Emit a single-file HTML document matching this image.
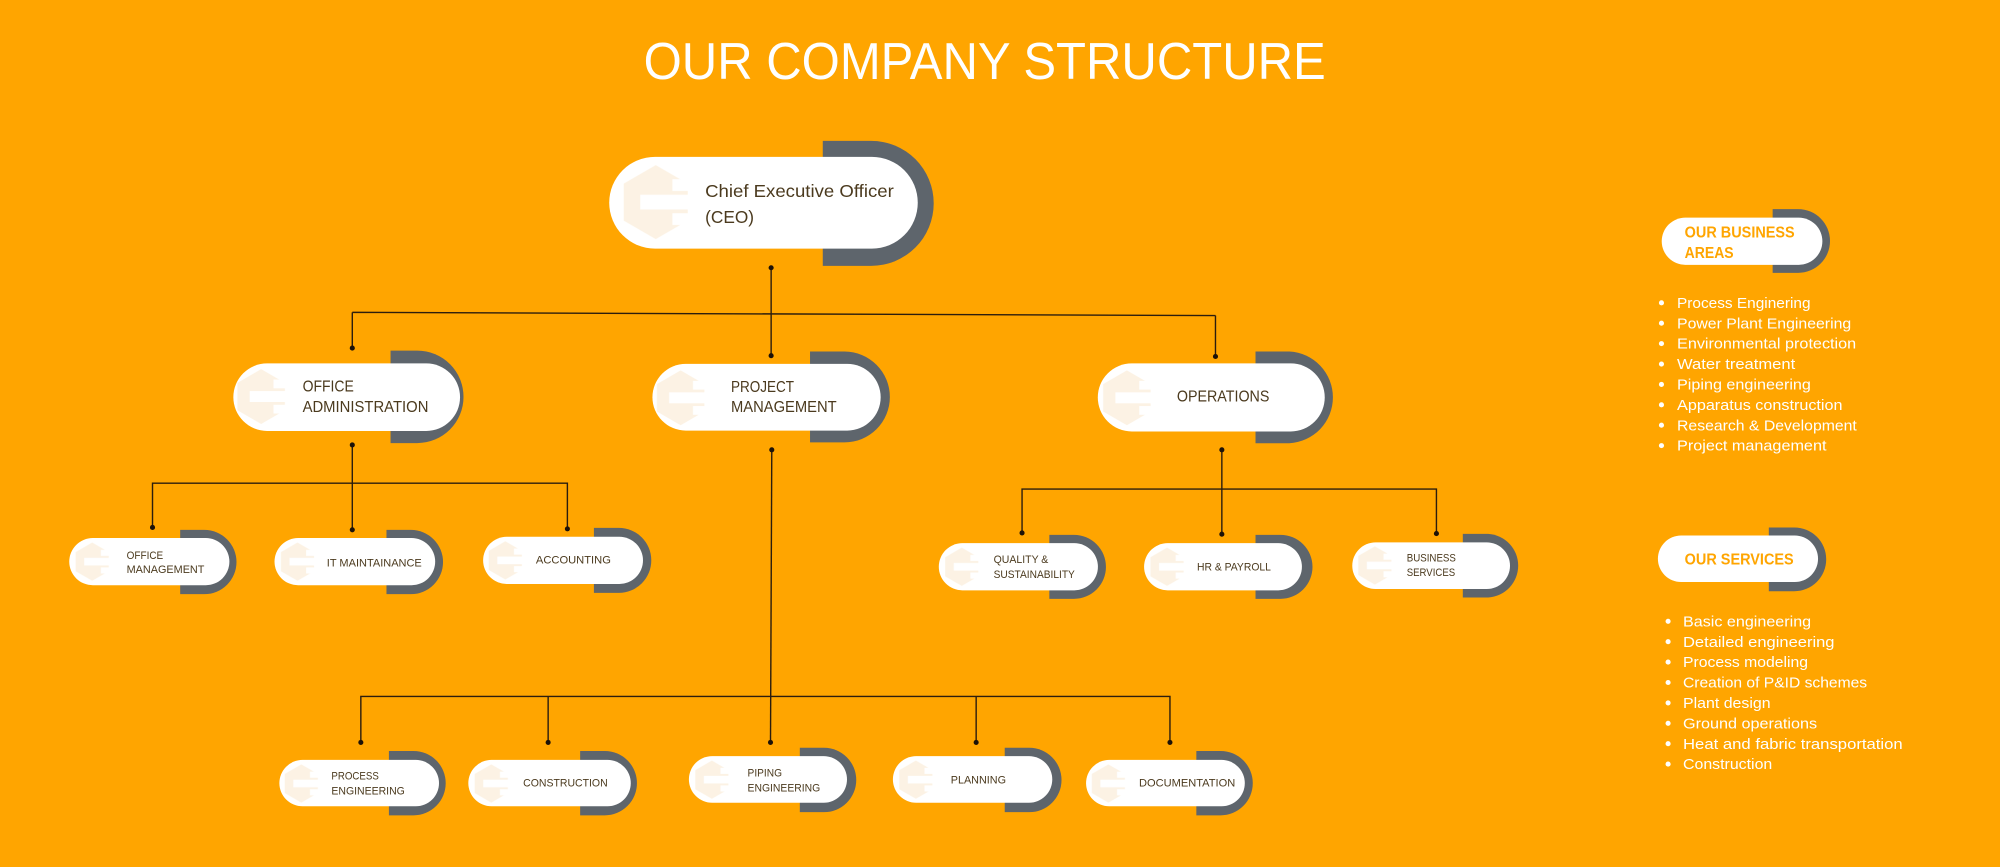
<!DOCTYPE html>
<html><head><meta charset="utf-8"><style>
html,body{margin:0;padding:0;background:#FFA500;}
svg{display:block;}
text{font-family:"Liberation Sans",sans-serif;}
</style></head><body>
<svg width="2000" height="867" viewBox="0 0 1568 680" xmlns="http://www.w3.org/2000/svg">
<defs>
<symbol id="logo" viewBox="-1 -1 2 2">
<polygon points="0,-1 0.866,-0.5 0.866,0.5 0,1 -0.866,0.5 -0.866,-0.5" fill="#fbeedb"/>
<rect x="-0.42" y="-0.2" width="1.4" height="0.4" fill="#fff"/>
<rect x="0.45" y="-0.62" width="0.5" height="0.32" fill="#fff"/>
<rect x="0.45" y="0.3" width="0.5" height="0.32" fill="#fff"/>
</symbol>
</defs>
<rect width="1568" height="680" fill="#FFA500"/>
<text x="772" y="62" font-size="41" fill="#fff" text-anchor="middle" textLength="535" lengthAdjust="spacingAndGlyphs">OUR COMPANY STRUCTURE</text>

<g stroke="#2b1d0e" stroke-width="1.1" fill="none">
<line x1="604.5" y1="210" x2="604.5" y2="245.5"/>
<line x1="276" y1="245" x2="953" y2="247.5"/>
<line x1="276" y1="245" x2="276" y2="273"/>
<line x1="604.5" y1="245.5" x2="604.5" y2="279"/>
<line x1="953" y1="247.5" x2="953" y2="279.6"/>
<line x1="276" y1="349" x2="276" y2="415.5"/>
<polyline points="119.3,413.7 119.3,379 444.7,379 444.7,414.8"/>
<line x1="958" y1="352.8" x2="958" y2="418"/>
<polyline points="801.3,418 801.3,383.6 1126.3,383.6 1126.3,418"/>
<line x1="605" y1="352.8" x2="604" y2="582.3"/>
<polyline points="282.7,582.3 282.7,546.2 917.3,546.2 917.3,582.3"/>
<line x1="429.6" y1="546.2" x2="429.6" y2="582.3"/>
<line x1="765.3" y1="546.2" x2="765.3" y2="582.3"/>
</g>
<g fill="#1d1208">
<circle cx="604.5" cy="210" r="2"/><circle cx="276" cy="273" r="2"/><circle cx="604.5" cy="279" r="2"/><circle cx="953" cy="279.6" r="2"/>
<circle cx="276" cy="349" r="2"/><circle cx="119.3" cy="413.7" r="2"/><circle cx="276" cy="415.5" r="2"/><circle cx="444.7" cy="414.8" r="2"/>
<circle cx="605" cy="352.8" r="2"/><circle cx="958" cy="352.8" r="2"/>
<circle cx="801.3" cy="418" r="2"/><circle cx="958" cy="419" r="2"/><circle cx="1126.3" cy="418.5" r="2"/>
<circle cx="282.7" cy="582.3" r="2"/><circle cx="429.6" cy="582.3" r="2"/><circle cx="604" cy="582.3" r="2"/><circle cx="765.3" cy="582.3" r="2"/><circle cx="917.3" cy="582.3" r="2"/>
</g>

<g fill="#5e656c">
<path d="M645 110.5 H683 A49 49 0 0 1 683 208.5 H645 Z"/>
<path d="M306 275 H327 A36.25 36.25 0 0 1 327 347.5 H306 Z"/>
<path d="M635 275.7 H662 A35.65 35.65 0 0 1 662 347 H635 Z"/>
<path d="M984.4 275.7 H1011 A36 36 0 0 1 1011 347.6 H984.4 Z"/>
<path d="M141 415.6 H160 A25.2 25.2 0 0 1 160 466 H141 Z"/>
<path d="M302.8 415.6 H322 A25.2 25.2 0 0 1 322 466 H302.8 Z"/>
<path d="M465.5 414 H485 A25.5 25.5 0 0 1 485 465 H465.5 Z"/>
<path d="M822.7 419.5 H842 A25.1 25.1 0 0 1 842 469.7 H822.7 Z"/>
<path d="M984.4 419.5 H1004 A25.1 25.1 0 0 1 1004 469.7 H984.4 Z"/>
<path d="M1147 418.7 H1167 A25 25 0 0 1 1167 468.6 H1147 Z"/>
<path d="M304.7 589 H324 A25.25 25.25 0 0 1 324 639.5 H304.7 Z"/>
<path d="M454.7 589 H474 A25.25 25.25 0 0 1 474 639.5 H454.7 Z"/>
<path d="M627 586.5 H646 A25.25 25.25 0 0 1 646 637 H627 Z"/>
<path d="M787.7 586.5 H807 A25.25 25.25 0 0 1 807 637 H787.7 Z"/>
<path d="M938 589 H957 A25.25 25.25 0 0 1 957 639.5 H938 Z"/>
<path d="M1390 164 H1410 A25 25 0 0 1 1410 214 H1390 Z"/>
<path d="M1387 413.7 H1407 A25 25 0 0 1 1407 463.7 H1387 Z"/>
</g>

<g fill="#fff">
<rect x="477.5" y="123" width="242" height="72" rx="36"/>
<rect x="182.7" y="285" width="177.8" height="53" rx="26.5"/>
<rect x="511.4" y="285.4" width="179" height="52.3" rx="26.2"/>
<rect x="860.7" y="285" width="178" height="53.4" rx="26.7"/>
<rect x="54" y="422" width="125.6" height="37" rx="18.5"/>
<rect x="215" y="422" width="126" height="37" rx="18.5"/>
<rect x="378.6" y="421" width="125.4" height="37" rx="18.5"/>
<rect x="736" y="426" width="124.8" height="37" rx="18.5"/>
<rect x="897" y="426" width="123.8" height="37" rx="18.5"/>
<rect x="1060.3" y="425.4" width="123.7" height="36.6" rx="18.3"/>
<rect x="218.8" y="596" width="125.2" height="36.4" rx="18.2"/>
<rect x="367" y="596" width="127.4" height="36.4" rx="18.2"/>
<rect x="540" y="593" width="124" height="36.6" rx="18.3"/>
<rect x="700" y="593" width="125" height="36.6" rx="18.3"/>
<rect x="851.5" y="596" width="124.5" height="36.4" rx="18.2"/>
<rect x="1303" y="170.7" width="126" height="37" rx="18.5"/>
<rect x="1300" y="420" width="125.6" height="36.5" rx="18.25"/>
</g>

<g opacity="0.75">
<use href="#logo" x="485" y="129" width="58" height="59"/>
<use href="#logo" x="183" y="289" width="43" height="44"/>
<use href="#logo" x="512" y="290" width="43" height="44"/>
<use href="#logo" x="862" y="290" width="43" height="44"/>
<use href="#logo" x="57" y="425" width="30" height="31"/>
<use href="#logo" x="218" y="425" width="30" height="31"/>
<use href="#logo" x="381" y="424" width="30" height="31"/>
<use href="#logo" x="739" y="429" width="30" height="31"/>
<use href="#logo" x="900" y="429" width="30" height="31"/>
<use href="#logo" x="1063" y="428" width="30" height="31"/>
<use href="#logo" x="221" y="599" width="30" height="31"/>
<use href="#logo" x="370" y="599" width="30" height="31"/>
<use href="#logo" x="543" y="596" width="30" height="31"/>
<use href="#logo" x="703" y="596" width="30" height="31"/>
<use href="#logo" x="854" y="599" width="30" height="31"/>
</g>

<g fill="#4b3a1e">
<text x="552.7" y="154.5" font-size="13.5" textLength="148" lengthAdjust="spacingAndGlyphs">Chief Executive Officer</text>
<text x="552.7" y="175" font-size="13.5" textLength="38.4" lengthAdjust="spacingAndGlyphs">(CEO)</text>
<text x="237" y="307" font-size="12.5" textLength="40.2" lengthAdjust="spacingAndGlyphs">OFFICE</text>
<text x="237" y="323" font-size="12.5" textLength="98.7" lengthAdjust="spacingAndGlyphs">ADMINISTRATION</text>
<text x="573" y="307.6" font-size="12.5" textLength="49.4" lengthAdjust="spacingAndGlyphs">PROJECT</text>
<text x="573" y="323.3" font-size="12.5" textLength="82.9" lengthAdjust="spacingAndGlyphs">MANAGEMENT</text>
<text x="922.7" y="315" font-size="12.5" textLength="72.6" lengthAdjust="spacingAndGlyphs">OPERATIONS</text>
<g font-size="8.8">
<text x="99" y="438.3" textLength="28.7" lengthAdjust="spacingAndGlyphs">OFFICE</text>
<text x="99" y="449.5" textLength="61" lengthAdjust="spacingAndGlyphs">MANAGEMENT</text>
<text x="256" y="444.3" textLength="74.5" lengthAdjust="spacingAndGlyphs">IT MAINTAINANCE</text>
<text x="420" y="442" textLength="58.8" lengthAdjust="spacingAndGlyphs">ACCOUNTING</text>
<text x="779" y="441.7" textLength="42.9" lengthAdjust="spacingAndGlyphs">QUALITY &amp;</text>
<text x="779" y="453.4" textLength="63.7" lengthAdjust="spacingAndGlyphs">SUSTAINABILITY</text>
<text x="938.5" y="447.4" textLength="58" lengthAdjust="spacingAndGlyphs">HR &amp; PAYROLL</text>
<text x="1103" y="440.4" textLength="38.6" lengthAdjust="spacingAndGlyphs">BUSINESS</text>
<text x="1103" y="451.6" textLength="38" lengthAdjust="spacingAndGlyphs">SERVICES</text>
<text x="259.6" y="611.5" textLength="37.2" lengthAdjust="spacingAndGlyphs">PROCESS</text>
<text x="259.6" y="623" textLength="57.6" lengthAdjust="spacingAndGlyphs">ENGINEERING</text>
<text x="410" y="617" textLength="66.3" lengthAdjust="spacingAndGlyphs">CONSTRUCTION</text>
<text x="586" y="609" textLength="27" lengthAdjust="spacingAndGlyphs">PIPING</text>
<text x="586" y="620.7" textLength="57" lengthAdjust="spacingAndGlyphs">ENGINEERING</text>
<text x="745.4" y="614.6" textLength="43.3" lengthAdjust="spacingAndGlyphs">PLANNING</text>
<text x="893" y="617" textLength="75.5" lengthAdjust="spacingAndGlyphs">DOCUMENTATION</text>
</g>
</g>

<g fill="#FFA500" font-weight="bold" font-size="12.5">
<text x="1321" y="186.4" textLength="86.3" lengthAdjust="spacingAndGlyphs">OUR BUSINESS</text>
<text x="1321" y="202.4" textLength="38.4" lengthAdjust="spacingAndGlyphs">AREAS</text>
<text x="1321" y="442.8" textLength="85.5" lengthAdjust="spacingAndGlyphs">OUR SERVICES</text>
</g>

<g fill="#fff" font-size="11.8">
<g>
<circle cx="1302.8" cy="237.5" r="2"/><circle cx="1302.8" cy="253.5" r="2"/><circle cx="1302.8" cy="269.5" r="2"/><circle cx="1302.8" cy="285.5" r="2"/><circle cx="1302.8" cy="301.5" r="2"/><circle cx="1302.8" cy="317.5" r="2"/><circle cx="1302.8" cy="333.5" r="2"/><circle cx="1302.8" cy="349.5" r="2"/>
<circle cx="1308" cy="487.3" r="2"/><circle cx="1308" cy="503.3" r="2"/><circle cx="1308" cy="519.3" r="2"/><circle cx="1308" cy="535.3" r="2"/><circle cx="1308" cy="551.3" r="2"/><circle cx="1308" cy="567.3" r="2"/><circle cx="1308" cy="583.3" r="2"/><circle cx="1308" cy="599.3" r="2"/>
</g>
<text x="1315" y="241.5" textLength="104.7" lengthAdjust="spacingAndGlyphs">Process Enginering</text>
<text x="1315" y="257.5" textLength="136.6" lengthAdjust="spacingAndGlyphs">Power Plant Engineering</text>
<text x="1315" y="273.5" textLength="140.5" lengthAdjust="spacingAndGlyphs">Environmental protection</text>
<text x="1315" y="289.5" textLength="92.7" lengthAdjust="spacingAndGlyphs">Water treatment</text>
<text x="1315" y="305.5" textLength="105" lengthAdjust="spacingAndGlyphs">Piping engineering</text>
<text x="1315" y="321.5" textLength="129.8" lengthAdjust="spacingAndGlyphs">Apparatus construction</text>
<text x="1315" y="337.5" textLength="141" lengthAdjust="spacingAndGlyphs">Research &amp; Development</text>
<text x="1315" y="353.5" textLength="117.2" lengthAdjust="spacingAndGlyphs">Project management</text>
<text x="1319.7" y="491.3" textLength="100.5" lengthAdjust="spacingAndGlyphs">Basic engineering</text>
<text x="1319.7" y="507.3" textLength="118.8" lengthAdjust="spacingAndGlyphs">Detailed engineering</text>
<text x="1319.7" y="523.3" textLength="98" lengthAdjust="spacingAndGlyphs">Process modeling</text>
<text x="1319.7" y="539.3" textLength="144.4" lengthAdjust="spacingAndGlyphs">Creation of P&amp;ID schemes</text>
<text x="1319.7" y="555.3" textLength="68.7" lengthAdjust="spacingAndGlyphs">Plant design</text>
<text x="1319.7" y="571.3" textLength="105.2" lengthAdjust="spacingAndGlyphs">Ground operations</text>
<text x="1319.7" y="587.3" textLength="172.3" lengthAdjust="spacingAndGlyphs">Heat and fabric transportation</text>
<text x="1319.7" y="603.3" textLength="70" lengthAdjust="spacingAndGlyphs">Construction</text>
</g>
</svg>
</body></html>
